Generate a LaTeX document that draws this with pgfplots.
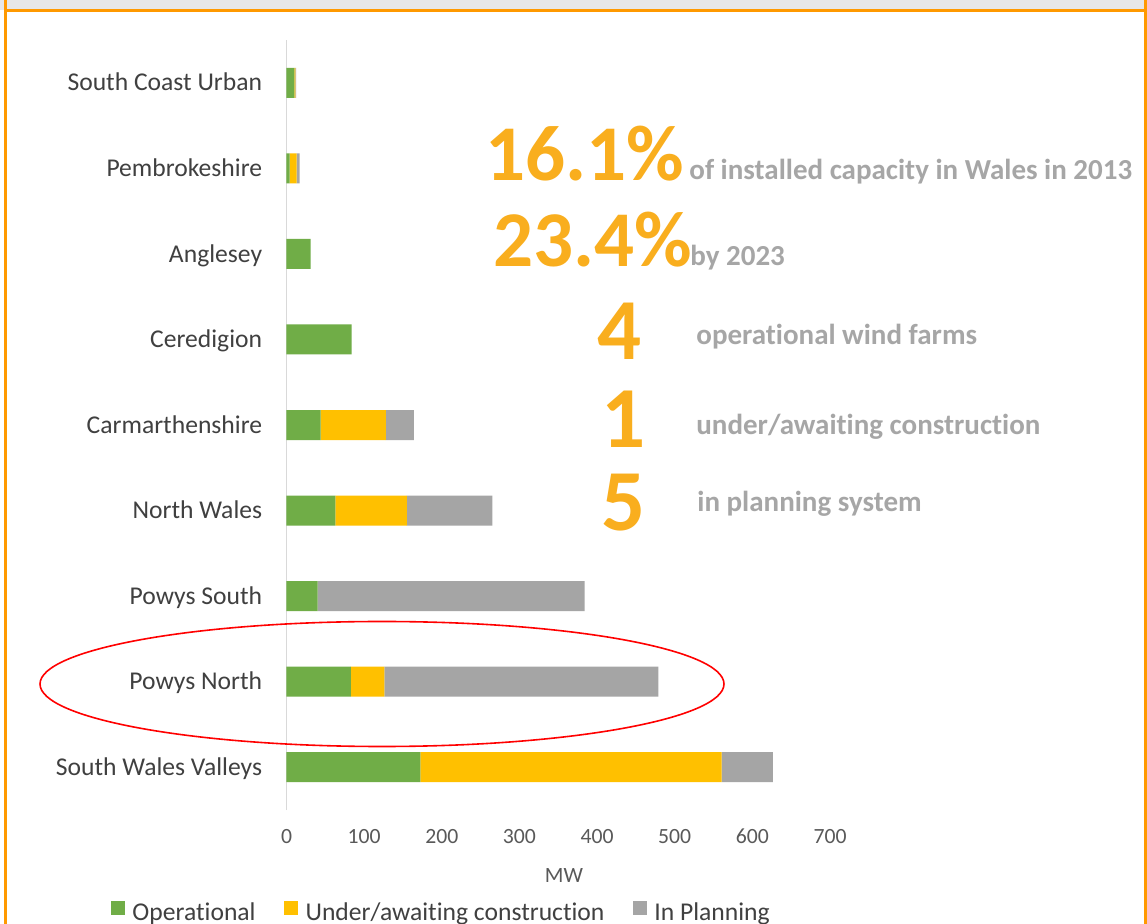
\documentclass[border=0pt]{standalone}
\usepackage{fontspec}
\setmainfont{Carlito}[Ligatures={NoCommon,NoRequired,NoContextual}]
\usepackage{pgfplots}
\pgfplotsset{compat=1.18}
\definecolor{gOp}{HTML}{70AD47}
\definecolor{gUn}{HTML}{FFC000}
\definecolor{gPl}{HTML}{A5A5A5}
\definecolor{txt}{HTML}{404040}
\definecolor{tickc}{HTML}{595959}
\definecolor{big}{HTML}{F9AE1E}
\definecolor{note}{HTML}{A6A6A6}
\definecolor{frame}{HTML}{FF9900}
\definecolor{band}{HTML}{E7E7E7}
\definecolor{axisgray}{HTML}{D9D9D9}
\begin{document}
\begin{tikzpicture}[x=0.5pt,y=-0.5pt]
\useasboundingbox (0,0) rectangle (1147,924);
\fill[white] (0,0) rectangle (1147,924);
\fill[band] (0,0) rectangle (1147,10);
\draw[frame, line width=1.5pt] (5,0) -- (5,935);
\draw[frame, line width=1.5pt] (1145.5,0) -- (1145.5,935);
\draw[frame, line width=1.5pt] (5,11) -- (1145.5,11);
\begin{axis}[
  at={(143.25pt,-405pt)}, anchor=south west,
  scale only axis, width=271.75pt, height=385pt,
  xbar stacked, bar width=15pt,
  xmin=0, xmax=700, ymin=-0.5, ymax=8.5,
  xtick={0,100,...,700},
  ytick={0,...,8},
  yticklabels={South Wales Valleys, Powys North, Powys South, North Wales, Carmarthenshire, Ceredigion, Anglesey, Pembrokeshire, South Coast Urban},
  axis lines*=left,
  x axis line style={draw=none},
  y axis line style={draw=axisgray, line width=0.75pt},
  major tick length=0pt,
  tick style={draw=none},
  /pgf/number format/assume math mode=true,
  xticklabel style={anchor=center, inner sep=0pt, yshift=-13.35pt, font=\fontsize{10.85}{13}\selectfont, text=tickc},
  yticklabel style={anchor=base east, inner sep=0pt, xshift=-12pt, yshift=-4.1pt, font=\fontsize{12.8}{15}\selectfont, text=txt},
  xlabel={MW},
  xlabel style={at={(axis description cs:0.5106,0)}, anchor=center, inner sep=0pt, yshift=-32.75pt, font=\fontsize{10.9}{13}\selectfont, text=tickc},
  legend columns=-1,
  legend style={at={(axis description cs:-0.3229,-0.1179)}, anchor=north west, draw=none, fill=none, inner sep=0pt, outer sep=0pt,
    nodes={inner sep=0pt, text=txt, font=\fontsize{12.8}{15}\selectfont},
    /tikz/every odd column/.style={column sep=3.9pt},
    /tikz/every even column/.style={column sep=14.25pt}},
  legend image code/.code={\fill[#1] (0pt,-1pt) rectangle (6.85pt,6.15pt);},
]
\addplot[fill=gOp, draw=none] coordinates {(172.5,0) (83,1) (40,2) (63,3) (44,4) (84,5) (31,6) (4,7) (10,8)};
\addlegendentry{Operational}
\addplot[fill=gUn, draw=none] coordinates {(388,0) (43,1) (0,2) (92,3) (84,4) (0,5) (0,6) (9,7) (1.5,8)};
\addlegendentry{Under/awaiting construction}
\addplot[fill=gPl, draw=none] coordinates {(66,0) (353,1) (344,2) (110,3) (36,4) (0,5) (0,6) (4,7) (1,8)};
\addlegendentry{In Planning}
\end{axis}
\draw[red, line width=0.8pt] (382,684) ellipse [x radius=171pt, y radius=31.25pt];
\node[anchor=base west, inner sep=0pt, text=big, font=\fontsize{39.5}{40}\selectfont\bfseries] at (485,181) {16.1\%};
\node[anchor=base west, inner sep=0pt, text=note, font=\fontsize{14.5}{16}\selectfont\bfseries] at (689,180) {of installed capacity in Wales in 2013};
\node[anchor=base west, inner sep=0pt, text=big, font=\fontsize{39.5}{40}\selectfont\bfseries] at (493,267) {23.4\%};
\node[anchor=base west, inner sep=0pt, text=note, font=\fontsize{14.5}{16}\selectfont\bfseries] at (690,266) {by 2023};
\node[anchor=base, inner sep=0pt, text=big, font=\fontsize{43.5}{44}\selectfont\bfseries] at (620,360) {4};
\node[anchor=base, inner sep=0pt, text=big, font=\fontsize{43.5}{44}\selectfont\bfseries] at (624,448) {1};
\node[anchor=base, inner sep=0pt, text=big, font=\fontsize{43.5}{44}\selectfont\bfseries] at (624,531) {5};
\node[anchor=base west, inner sep=0pt, text=note, font=\fontsize{14.5}{16}\selectfont\bfseries] at (696,345) {operational wind farms};
\node[anchor=base west, inner sep=0pt, text=note, font=\fontsize{14.5}{16}\selectfont\bfseries] at (696,435) {under/awaiting construction};
\node[anchor=base west, inner sep=0pt, text=note, font=\fontsize{14.5}{16}\selectfont\bfseries] at (697,512) {in planning system};
\end{tikzpicture}
\end{document}
